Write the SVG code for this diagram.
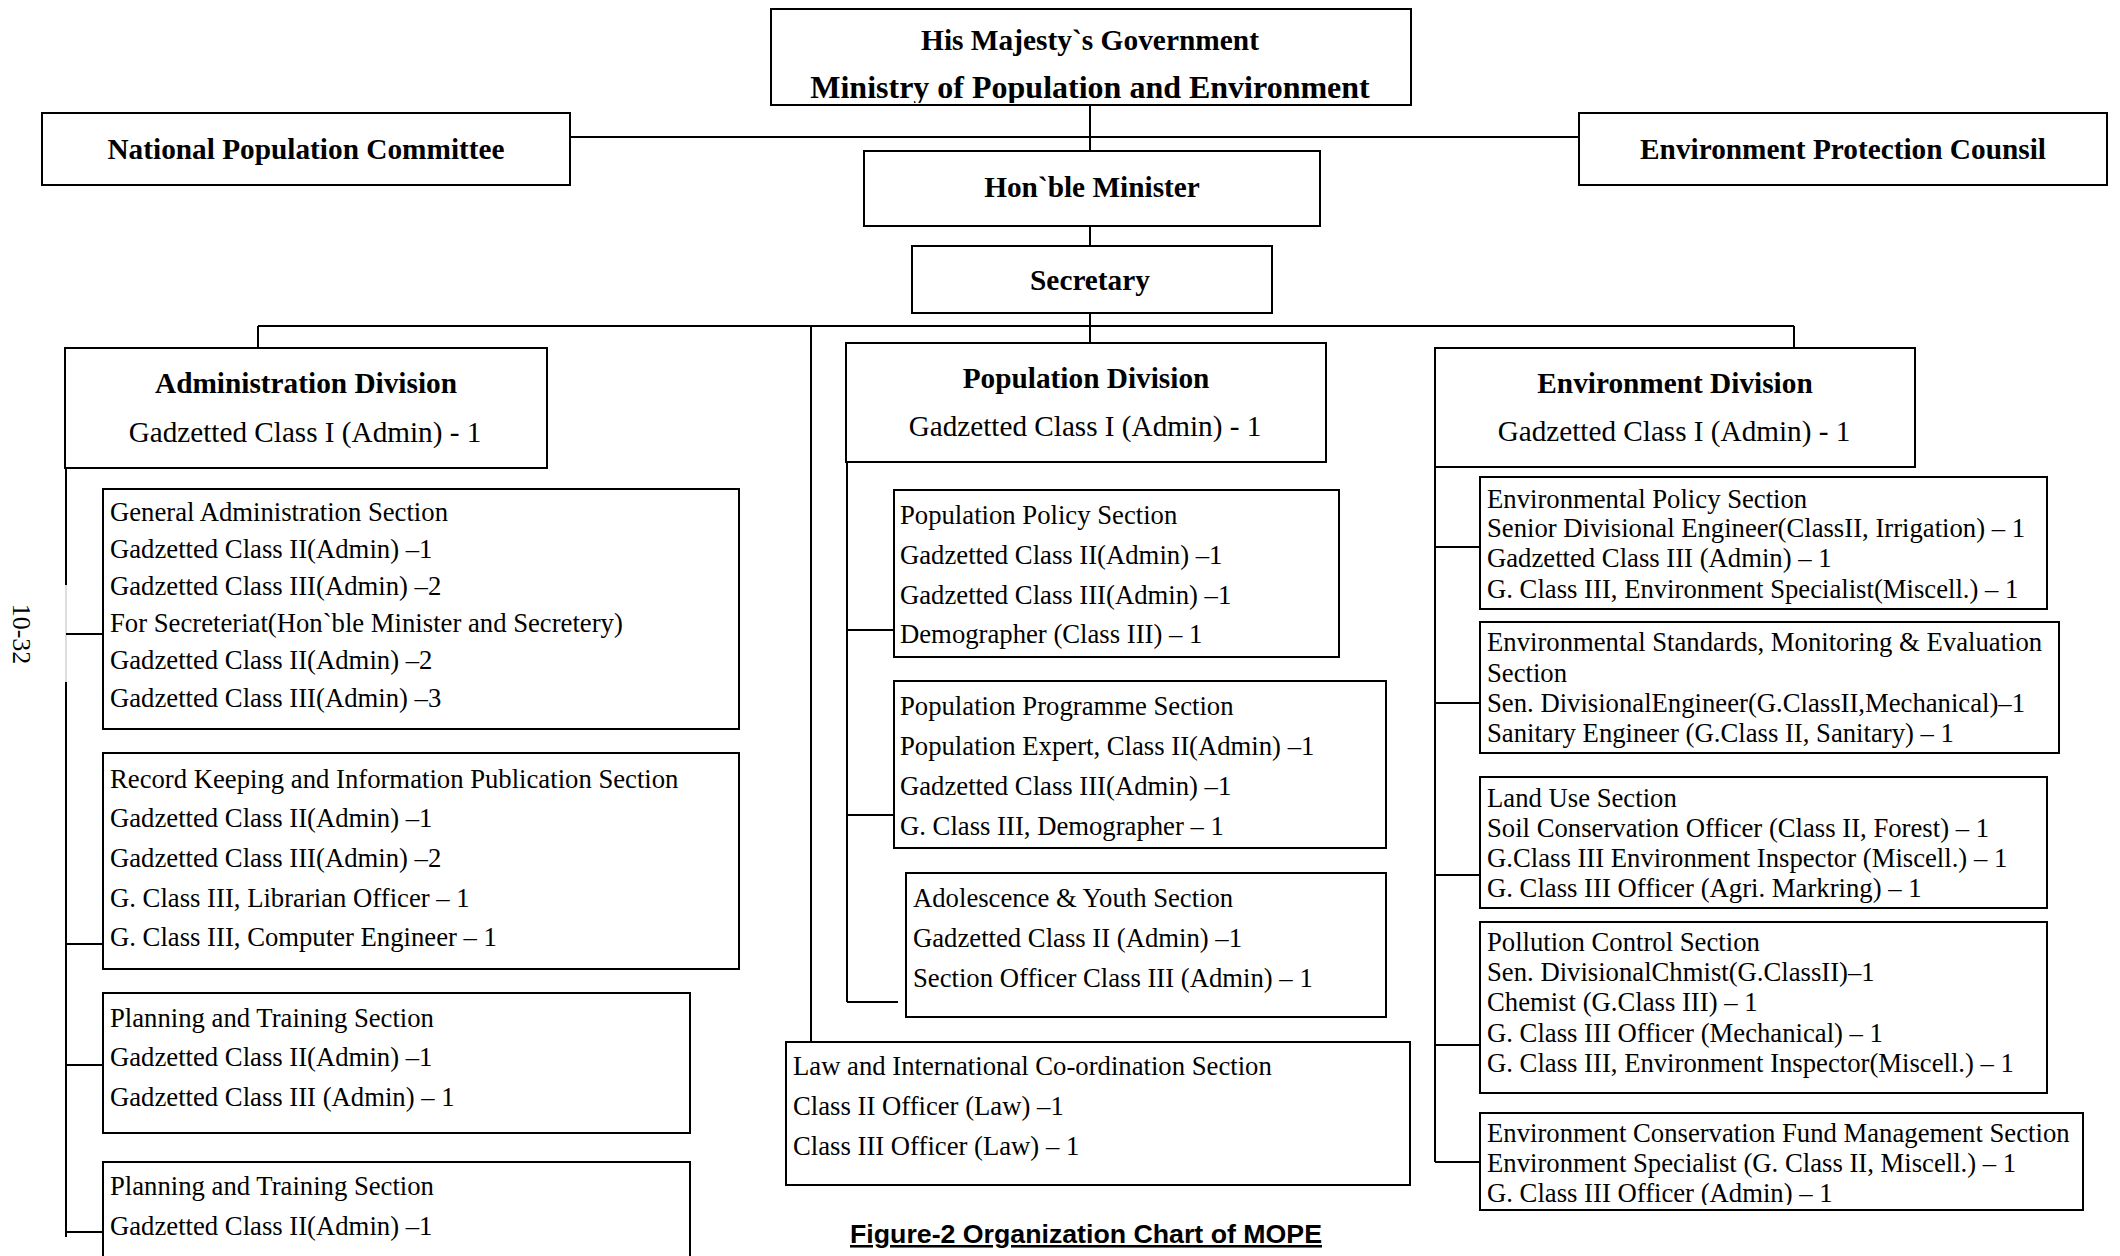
<svg xmlns="http://www.w3.org/2000/svg" width="2120" height="1256" viewBox="0 0 2120 1256">
<style>
.box{fill:#fff;stroke:#000;stroke-width:2}
.ln{fill:none;stroke:#000;stroke-width:2}
.lt{fill:none;stroke:#c8c8c8;stroke-width:1.2}
.hb{font-family:"Liberation Serif","Times New Roman",serif;font-weight:bold;font-size:29.3px;fill:#000;text-anchor:middle}
.hr{font-family:"Liberation Serif","Times New Roman",serif;font-size:29.2px;fill:#000;text-anchor:middle}
.t{font-family:"Liberation Serif","Times New Roman",serif;font-size:26.7px;fill:#000}
.cap{font-family:"Liberation Sans",Arial,sans-serif;font-weight:bold;font-size:25.5px;fill:#000;text-anchor:middle;text-decoration:underline}
</style>
<defs>
<clipPath id="cGov"><rect x="771" y="9" width="640" height="94"/></clipPath>
<clipPath id="cFund"><rect x="1480" y="1113" width="603" height="92"/></clipPath>
</defs>
<rect width="2120" height="1256" fill="#fff"/>

<g id="connectors">
<path class="ln" d="M1090 105V151M1090 226V246M1090 313V343M570 137H1579"/>
<path class="ln" d="M258 326H1794M258 326V348M1794 326V348M811 326V1042"/>
<path class="ln" d="M66 468V585M66 682V1237"/>
<path class="lt" d="M66 585V682"/>
<path class="ln" d="M66 634H103M66 944H103M66 1065H103M66 1232H103"/>
<path class="ln" d="M847 462V1002M847 630H894M847 815H894M847 1002H898"/>
<path class="ln" d="M1435 467V1162M1435 547H1480M1435 703H1480M1435 875H1480M1435 1045H1480M1435 1162H1480"/>
</g>

<g id="gov">
<rect class="box" x="771" y="9" width="640" height="96"/>
<g clip-path="url(#cGov)">
<text class="hb" x="1090" y="50" style="font-size:29.4px">His Majesty`s Government</text>
<text class="hb" x="1090" y="98" style="font-size:32px">Ministry of Population and Environment</text>
</g>
</g>
<g id="npc">
<rect class="box" x="42" y="113" width="528" height="72"/>
<text class="hb" x="306" y="159">National Population Committee</text>
</g>
<g id="epc">
<rect class="box" x="1579" y="113" width="528" height="72"/>
<text class="hb" x="1843" y="159">Environment Protection Counsil</text>
</g>
<g id="minister">
<rect class="box" x="864" y="151" width="456" height="75"/>
<text class="hb" x="1092" y="197">Hon`ble Minister</text>
</g>
<g id="secretary">
<rect class="box" x="912" y="246" width="360" height="67"/>
<text class="hb" x="1090" y="290">Secretary</text>
</g>

<g id="admin-division">
<rect class="box" x="65" y="348" width="482" height="120"/>
<text class="hb" x="306" y="393">Administration Division</text>
<text class="hr" x="305" y="442">Gadzetted Class I (Admin) - 1</text>
</g>
<g id="population-division">
<rect class="box" x="846" y="343" width="480" height="119"/>
<text class="hb" x="1086" y="388">Population Division</text>
<text class="hr" x="1085" y="436">Gadzetted Class I (Admin) - 1</text>
</g>
<g id="environment-division">
<rect class="box" x="1435" y="348" width="480" height="119"/>
<text class="hb" x="1675" y="393">Environment Division</text>
<text class="hr" x="1674" y="441">Gadzetted Class I (Admin) - 1</text>
</g>

<g id="general-admin">
<rect class="box" x="103" y="489" width="636" height="240"/>
<text class="t" x="110" y="521">General Administration Section</text>
<text class="t" x="110" y="558">Gadzetted Class II(Admin) –1</text>
<text class="t" x="110" y="595">Gadzetted Class III(Admin) –2</text>
<text class="t" x="110" y="632">For Secreteriat(Hon`ble Minister and Secretery)</text>
<text class="t" x="110" y="669">Gadzetted Class II(Admin) –2</text>
<text class="t" x="110" y="707">Gadzetted Class III(Admin) –3</text>
</g>
<g id="record-keeping">
<rect class="box" x="103" y="753" width="636" height="216"/>
<text class="t" x="110" y="788">Record Keeping and Information Publication Section</text>
<text class="t" x="110" y="827">Gadzetted Class II(Admin) –1</text>
<text class="t" x="110" y="867">Gadzetted Class III(Admin) –2</text>
<text class="t" x="110" y="907">G. Class III, Librarian Officer – 1</text>
<text class="t" x="110" y="946">G. Class III, Computer Engineer – 1</text>
</g>
<g id="planning-1">
<rect class="box" x="103" y="993" width="587" height="140"/>
<text class="t" x="110" y="1027">Planning and Training Section</text>
<text class="t" x="110" y="1066">Gadzetted Class II(Admin) –1</text>
<text class="t" x="110" y="1106">Gadzetted Class III (Admin) – 1</text>
</g>
<g id="planning-2">
<rect class="box" x="103" y="1162" width="587" height="120"/>
<text class="t" x="110" y="1195">Planning and Training Section</text>
<text class="t" x="110" y="1235">Gadzetted Class II(Admin) –1</text>
</g>

<g id="population-policy">
<rect class="box" x="894" y="490" width="445" height="167"/>
<text class="t" x="900" y="524">Population Policy Section</text>
<text class="t" x="900" y="564">Gadzetted Class II(Admin) –1</text>
<text class="t" x="900" y="604">Gadzetted Class III(Admin) –1</text>
<text class="t" x="900" y="643">Demographer (Class III) – 1</text>
</g>
<g id="population-programme">
<rect class="box" x="894" y="681" width="492" height="167"/>
<text class="t" x="900" y="715">Population Programme Section</text>
<text class="t" x="900" y="755">Population Expert, Class II(Admin) –1</text>
<text class="t" x="900" y="795">Gadzetted Class III(Admin) –1</text>
<text class="t" x="900" y="835">G. Class III, Demographer – 1</text>
</g>
<g id="adolescence-youth">
<rect class="box" x="906" y="873" width="480" height="144"/>
<text class="t" x="913" y="907">Adolescence &amp; Youth Section</text>
<text class="t" x="913" y="947">Gadzetted Class II (Admin) –1</text>
<text class="t" x="913" y="987">Section Officer Class III (Admin) – 1</text>
</g>
<g id="law-section">
<rect class="box" x="786" y="1042" width="624" height="143"/>
<text class="t" x="793" y="1075">Law and International Co-ordination Section</text>
<text class="t" x="793" y="1115">Class II Officer (Law) –1</text>
<text class="t" x="793" y="1155">Class III Officer (Law) – 1</text>
</g>

<g id="env-policy">
<rect class="box" x="1480" y="477" width="567" height="132"/>
<text class="t" x="1487" y="508">Environmental Policy Section</text>
<text class="t" x="1487" y="537">Senior Divisional Engineer(ClassII, Irrigation) – 1</text>
<text class="t" x="1487" y="567">Gadzetted Class III (Admin) – 1</text>
<text class="t" x="1487" y="598">G. Class III, Environment Specialist(Miscell.) – 1</text>
</g>
<g id="env-standards">
<rect class="box" x="1480" y="622" width="579" height="131"/>
<text class="t" x="1487" y="651">Environmental Standards, Monitoring &amp; Evaluation</text>
<text class="t" x="1487" y="682">Section</text>
<text class="t" x="1487" y="712">Sen. DivisionalEngineer(G.ClassII,Mechanical)–1</text>
<text class="t" x="1487" y="742">Sanitary Engineer (G.Class II, Sanitary) – 1</text>
</g>
<g id="land-use">
<rect class="box" x="1480" y="777" width="567" height="131"/>
<text class="t" x="1487" y="807">Land Use Section</text>
<text class="t" x="1487" y="837">Soil Conservation Officer (Class II, Forest) – 1</text>
<text class="t" x="1487" y="867">G.Class III Environment Inspector (Miscell.) – 1</text>
<text class="t" x="1487" y="897">G. Class III Officer (Agri. Markring) – 1</text>
</g>
<g id="pollution-control">
<rect class="box" x="1480" y="922" width="567" height="171"/>
<text class="t" x="1487" y="951">Pollution Control Section</text>
<text class="t" x="1487" y="981">Sen. DivisionalChmist(G.ClassII)–1</text>
<text class="t" x="1487" y="1011">Chemist (G.Class III) – 1</text>
<text class="t" x="1487" y="1042">G. Class III Officer (Mechanical) – 1</text>
<text class="t" x="1487" y="1072">G. Class III, Environment Inspector(Miscell.) – 1</text>
</g>
<g id="env-fund">
<rect class="box" x="1480" y="1113" width="603" height="97"/>
<g clip-path="url(#cFund)">
<text class="t" x="1487" y="1142">Environment Conservation Fund Management Section</text>
<text class="t" x="1487" y="1172">Environment Specialist (G. Class II, Miscell.) – 1</text>
<text class="t" x="1487" y="1202">G. Class III Officer (Admin) – 1</text>
</g>
</g>

<g id="page-number">
<text class="t" transform="translate(13,634) rotate(90)" text-anchor="middle" style="font-size:26px">10-32</text>
</g>
<g id="caption">
<text class="cap" x="1086" y="1243" textLength="472" lengthAdjust="spacingAndGlyphs">Figure-2 Organization Chart of MOPE</text>
</g>
</svg>
